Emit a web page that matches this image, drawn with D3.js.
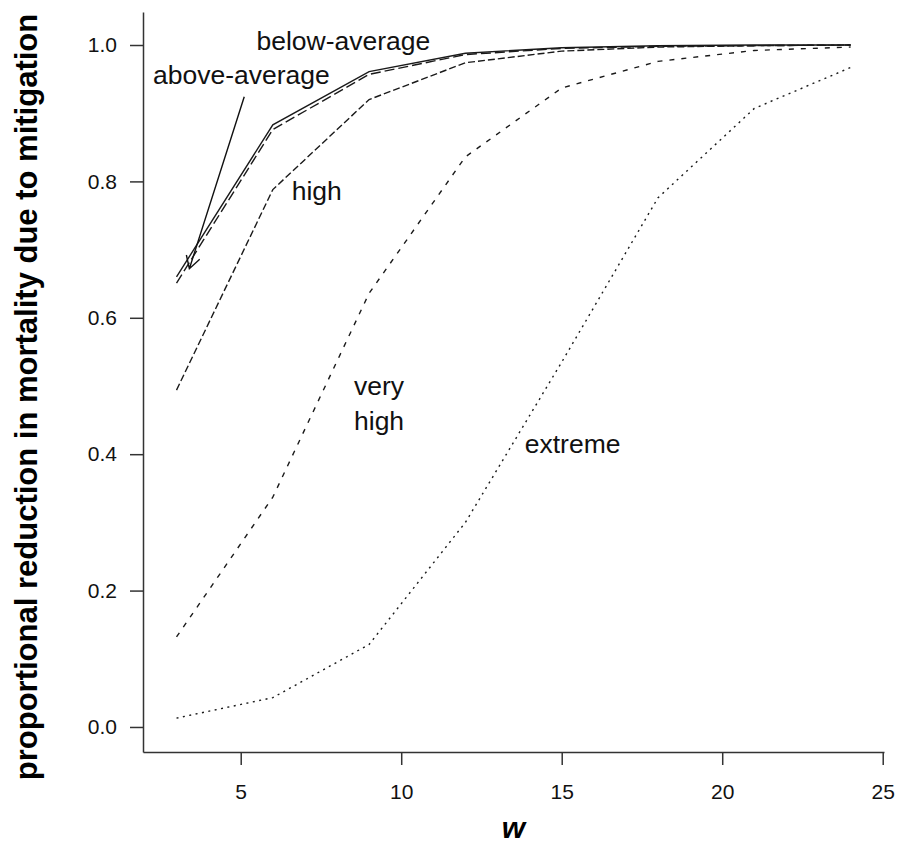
<!DOCTYPE html>
<html>
<head>
<meta charset="utf-8">
<script src="https://cdn.jsdelivr.net/npm/d3@7"></script>
<style>
  body { margin: 0; background: #fff; }
  svg { display: block; font-family: "Liberation Sans", Arial, sans-serif; }
  .axis path, .axis line { stroke: #333; stroke-width: 1.5; }
  .axis text { font-size: 21px; fill: #111; }
  .series { fill: none; stroke: #1a1a1a; stroke-width: 1.4; }
  .note { font-size: 26.5px; fill: #111; }
</style>
</head>
<body>
<div id="chart"></div>
<script>
// values
var wValues = [3, 6, 9, 12, 15, 18, 21, 24];
var belowAverage = [0.660, 0.883, 0.961, 0.988, 0.996, 0.999, 1.000, 1.000];
var aboveAverage = [0.651, 0.876, 0.957, 0.986, 0.995, 0.998, 0.999, 1.000];
var high = [0.494, 0.788, 0.920, 0.974, 0.991, 0.997, 0.999, 1.000];
var veryHigh = [0.132, 0.337, 0.636, 0.836, 0.937, 0.976, 0.992, 0.997];
var extreme = [0.013, 0.043, 0.121, 0.300, 0.535, 0.776, 0.907, 0.967];

var xTicks = [5, 10, 15, 20, 25];
var yTicks = [0, 0.2, 0.4, 0.6, 0.8, 1.0];

var series = [
    { name: "below-average", values: belowAverage, dash: null },
    { name: "above-average", values: aboveAverage, dash: "10,4" },
    { name: "high", values: high, dash: "7,3" },
    { name: "very high", values: veryHigh, dash: "5,7" },
    { name: "extreme", values: extreme, dash: "2,4.5" }
];

// labels placed in data units: [text lines, w, value of first line]
var notes = [
    { lines: ["below-average"], w: 8.2, v: 1.007 },
    { lines: ["above-average"], w: 5.02, v: 0.956 },
    { lines: ["high"], w: 7.37, v: 0.786 },
    { lines: ["very", "high"], w: 9.31, v: 0.50 },
    { lines: ["extreme"], w: 15.34, v: 0.416 }
];
var arrow = { from: [5.11, 0.924], to: [3.40, 0.672] };

var width = 898, height = 845;

var svg = d3.select('#chart').append('svg')
    .attr('width', width)
    .attr('height', height);

var x = d3.scaleLinear().domain([1.956, 25.04]).range([143, 884]);
var y = d3.scaleLinear().domain([-0.0367, 1.0484]).range([752, 12]);

svg.append("g")
    .attr("class", "axis")
    .attr("transform", "translate(0,752)")
    .call(d3.axisBottom(x).tickValues(xTicks).tickSize(13).tickSizeOuter(0))
    .selectAll("text").attr("dy", "0.35em").attr("y", 40);

svg.append("g")
    .attr("class", "axis")
    .attr("transform", "translate(143,0)")
    .call(d3.axisLeft(y).tickValues(yTicks).tickFormat(d3.format(".1f")).tickSize(13).tickSizeOuter(0).tickPadding(13));

svg.selectAll(".axis text").style("font-family", "\"Liberation Sans\", Arial, sans-serif");

var line = d3.line()
    .x(function (d, i) { return x(wValues[i]); })
    .y(function (d) { return y(d); });

svg.selectAll(".series")
    .data(series)
    .enter().append("path")
    .attr("class", "series")
    .attr("d", function (d) { return line(d.values); })
    .attr("stroke-dasharray", function (d) { return d.dash; });

var note = svg.selectAll(".note")
    .data(notes)
    .enter().append("text")
    .attr("class", "note")
    .attr("text-anchor", "middle")
    .attr("x", function (d) { return x(d.w); })
    .attr("y", function (d) { return y(d.v); });

note.selectAll("tspan")
    .data(function (d) { return d.lines.map(function (t) { return { t: t, w: d.w }; }); })
    .enter().append("tspan")
    .attr("x", function (d) { return x(d.w); })
    .attr("dy", function (d, i) { return i === 0 ? "0.35em" : "35"; })
    .text(function (d) { return d.t; });

// arrow from "above-average" down to the curves
var ax0 = x(arrow.from[0]), ay0 = y(arrow.from[1]);
var ax1 = x(arrow.to[0]), ay1 = y(arrow.to[1]);
var ang = Math.atan2(ay1 - ay0, ax1 - ax0);
var headLen = 14, headAng = Math.PI / 6;
svg.append("path")
    .attr("d", "M" + ax0 + "," + ay0 + "L" + ax1 + "," + ay1 +
        "M" + (ax1 - headLen * Math.cos(ang - headAng)) + "," + (ay1 - headLen * Math.sin(ang - headAng)) +
        "L" + ax1 + "," + ay1 +
        "L" + (ax1 - headLen * Math.cos(ang + headAng)) + "," + (ay1 - headLen * Math.sin(ang + headAng)))
    .attr("fill", "none")
    .attr("stroke", "#111")
    .attr("stroke-width", 1.4);

svg.append("text")
    .attr("transform", "translate(26," + 397 + ") rotate(-90)")
    .attr("text-anchor", "middle")
    .attr("dy", "0.35em")
    .style("font-size", "31px")
    .style("font-weight", "bold")
    .text("proportional reduction in mortality due to mitigation");

svg.append("text")
    .attr("x", (143 + 884) / 2)
    .attr("y", 838)
    .attr("text-anchor", "middle")
    .style("font-size", "30px")
    .style("font-weight", "bold")
    .style("font-style", "italic")
    .text("w");
</script>
</body>
</html>
